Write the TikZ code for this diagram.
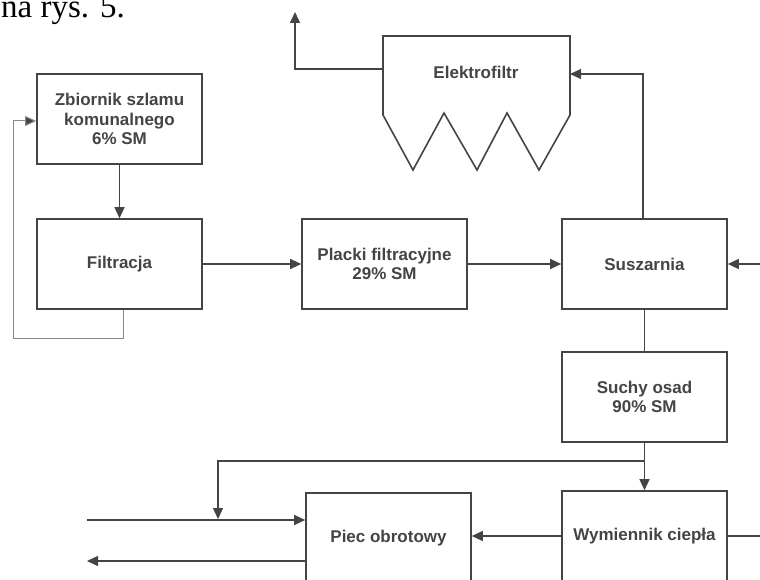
\documentclass[tikz,border=0pt]{standalone}
\usepackage{fontspec}
\usetikzlibrary{arrows.meta}
\newfontfamily\lsans{Liberation Sans}
\newfontfamily\lserif{Liberation Serif}
\definecolor{dgray}{HTML}{444444}
\definecolor{lgray}{HTML}{8A8A8A}
\begin{document}
\begin{tikzpicture}[x=1pt,y=-1pt,
		box/.style={draw=dgray,line width=1.6pt,minimum width=165pt,minimum height=90pt,align=center,
			font=\lsans\bfseries\fontsize{17}{19.5}\selectfont,text=dgray},
		flow/.style={draw=dgray,line width=1.2pt,-{Triangle[length=11pt,width=10pt]}},
		pipe/.style={draw=dgray,line width=1.2pt},
		back/.style={draw=lgray,line width=1pt,-{Triangle[length=11pt,width=10pt,fill=dgray]}}]
		\useasboundingbox (0,0) rectangle (760,580);
		\clip (0,0) rectangle (760,580);
		\node[anchor=base west,font=\lserif\fontsize{33}{38}\selectfont,inner sep=0pt] (caption) at (1,18) {na rys. 5.};
		% boxes
		\node[box] (zbiornik) at (119.5,119) {Zbiornik szlamu\\komunalnego\\6\% SM};
		\node[box] (filtracja) at (119.5,264) {Filtracja};
		\node[box] (placki) at (384.5,264) {Placki filtracyjne\\29\% SM};
		\node[box] (suszarnia) at (644.5,264) {Suszarnia};
		\node[box] (suchy) at (644.5,397) {Suchy osad\\90\% SM};
		\node[box] (wymiennik) at (644.5,536) {Wymiennik ciepła};
		\node[box] (piec) at (388.5,538) {Piec obrotowy};
		% electrostatic precipitator
		\draw[dgray,line width=1.6pt,line join=miter] (383,115) -- (383,36) -- (570,36) -- (570,115) -- (539,170) -- (507,113)
			-- (477,170) -- (444,113) -- (413,170) -- cycle;
		\node[font=\lsans\bfseries\fontsize{17}{19.5}\selectfont,text=dgray] (elektrofiltr) at (476,72) {Elektrofiltr};
		\coordinate (efin) at (570,74);
		\coordinate (efout) at (383,69);
		\coordinate (stack) at (295,12);
		% connectors
		\draw[flow] (zbiornik.south) -- (filtracja.north);
		\coordinate (fb) at (13,338);
		\draw[back] ([xshift=4pt]filtracja.south) |- (fb) |- ([yshift=-2pt]zbiornik.west);
		\draw[flow] (filtracja) -- (placki);
		\draw[flow] (placki) -- (suszarnia);
		\coordinate (inS) at (760,264);
		\draw[flow] (inS) -- (suszarnia.east);
		\draw[flow] ([xshift=-1.5pt]suszarnia.north) |- (efin);
		\draw[flow] (efout) -| (stack);
		\draw[pipe] (suszarnia) -- (suchy);
		\draw[flow] (suchy) -- (wymiennik);
		\coordinate (split) at (644.5,461);
		\coordinate (join) at (218,519);
		\draw[flow] (split) -| (join);
		\coordinate (inP) at (87,520);
		\draw[flow] (inP) -- (piec.west |- inP);
		\coordinate (outP) at (87,561);
		\draw[flow] (piec.west |- outP) -- (outP);
		\draw[flow] (wymiennik.west) -- (piec.east |- wymiennik.west);
		\coordinate (outW) at (760,536);
		\draw[pipe] (wymiennik.east) -- (outW);
	\end{tikzpicture}
\end{document}
